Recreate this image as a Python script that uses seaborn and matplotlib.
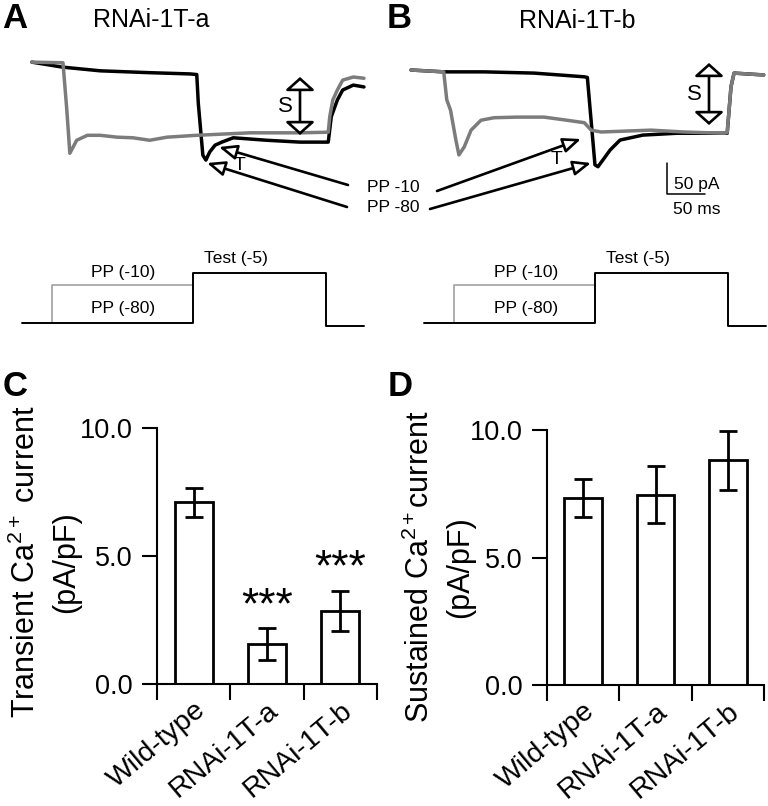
import numpy as np
import pandas as pd
import seaborn as sns
import matplotlib.pyplot as plt
from matplotlib import font_manager
from matplotlib.patches import FancyArrowPatch

W, H = 768, 806

# ---- bar data (pA/pF), mean and s.e.m.
groups = ['Wild-type', 'RNAi-1T-a', 'RNAi-1T-b']
transient_mean = [7.1, 1.55, 2.85]
transient_sem = [0.57, 0.63, 0.78]
sustained_mean = [7.33, 7.47, 8.82]
sustained_sem = [0.75, 1.12, 1.16]
transient_stars = ['', '***', '***']

# ---- current traces, time in ms (0 = prepulse onset), current in pA
a_black_t = [-41, -1, 49, 114, 167, 176, 178, 184, 188, 193, 200, 209, 224, 268, 312, 349, 353, 361, 368, 382, 396]
a_black_i = [3, -5, -11, -14, -16, -17, -63, -147, -155, -142, -131, -126, -119, -123, -126, -126, -85, -58, -42, -34, -37]
a_gray_t = [-41, 0, 5, 9, 18, 32, 49, 71, 92, 114, 137, 176, 246, 312, 349, 351, 355, 361, 368, 382, 396]
a_gray_i = [3, 2, -74, -144, -123, -115, -115, -118, -119, -123, -118, -115, -111, -111, -110, -85, -58, -42, -26, -21, -23]

b_black_t = [-46, -3, 50, 116, 182, 186, 196, 200, 216, 229, 259, 304, 370, 375, 379, 418]
b_black_i = [0, -3, -3, -5, -11, -12, -153, -156, -129, -113, -105, -102, -102, -27, -5, -8]
b_gray_t = [-46, -3, 1, 6, 13, 17, 24, 33, 46, 63, 93, 129, 159, 182, 191, 204, 270, 313, 366, 370, 375, 379, 418]
b_gray_i = [0, -3, -48, -65, -113, -137, -124, -97, -81, -77, -76, -76, -81, -85, -97, -100, -97, -100, -102, -101, -27, -5, -8]

scale_ms = 50
scale_pA = 50

# ---- voltage protocol (schematic heights)
prot_black_t = [0, 225, 225, 400, 400, 450]
prot_black_v = [0, 0, 50, 50, -2.5, -2.5]
prot_gray_t = [40, 40, 225]
prot_gray_v = [0, 38, 38]

sns.set_style('ticks')
names = {f.name for f in font_manager.fontManager.ttflist}
narrow = 'Liberation Sans Narrow' if 'Liberation Sans Narrow' in names else 'Liberation Sans'
small = 14.5 if narrow == 'Liberation Sans Narrow' else 12.5
plt.rcParams['font.family'] = ['Liberation Sans', 'DejaVu Sans']
plt.rcParams['mathtext.fontset'] = 'custom'
plt.rcParams['mathtext.rm'] = 'Liberation Sans'
plt.rcParams['mathtext.it'] = 'Liberation Sans:italic'
for k in ['text.color', 'axes.labelcolor', 'xtick.color', 'ytick.color', 'axes.edgecolor']:
    plt.rcParams[k] = 'black'

fig = plt.figure(figsize=(W / 100, H / 100), dpi=100)


def ax_at(x0, y0, x1, y1):
    return fig.add_axes([x0 / W, 1 - y1 / H, (x1 - x0) / W, (y1 - y0) / H])


PX_MS = 0.76
PX_PA = 0.62
GRAY = '#7c7c7c'


def trace_axes(x0, x1, onset, base, black_t, black_i, gray_t, gray_i):
    ax = ax_at(x0, 40, x1, 230)
    ax.plot(black_t, black_i, color='black', lw=2.5, solid_joinstyle='round')
    ax.plot(gray_t, gray_i, color=GRAY, lw=2.5, solid_joinstyle='round')
    ax.set_xlim((x0 - onset) / PX_MS, (x1 - onset) / PX_MS)
    ax.set_ylim(-(230 - base) / PX_PA, -(40 - base) / PX_PA)
    ax.axis('off')
    return ax


def protocol_axes(x0, x1, start):
    ax = ax_at(x0, 240, x1, 340)
    ax.plot(prot_gray_t, prot_gray_v, color='#a8a8a8', lw=1.3)
    ax.plot(prot_black_t, prot_black_v, color='black', lw=1.4)
    ax.set_xlim((x0 - start) / PX_MS, (x1 - start) / PX_MS)
    ax.set_ylim(-17, 83)
    ax.axis('off')


trace_axes(0, 384, 63, 64, a_black_t, a_black_i, a_gray_t, a_gray_i)
axB = trace_axes(384, 768, 446, 70, b_black_t, b_black_i, b_gray_t, b_gray_i)
sb_t, sb_i = 291, -150
axB.plot([sb_t, sb_t, sb_t + scale_ms], [sb_i, sb_i - scale_pA, sb_i - scale_pA], color='black', lw=1.1)
protocol_axes(0, 384, 22)
protocol_axes(384, 768, 424)


def bar_axes(x0, y0, x1, y1, means, sems):
    ax = ax_at(x0, y0, x1, y1)
    df = pd.DataFrame({'group': groups, 'value': means})
    sns.barplot(data=df, x='group', y='value', ax=ax, color='white', edgecolor='black',
                linewidth=2, width=0.52, errorbar=None, saturation=1)
    ax.errorbar(range(len(groups)), means, yerr=sems, fmt='none', ecolor='black',
                elinewidth=2, capsize=6.8, capthick=2, clip_on=False, zorder=3)
    ax.set_xlim(-0.5, len(groups) - 0.5)
    ax.set_ylim(0, 10)
    ax.set_yticks([0, 5, 10])
    ax.set_yticklabels(['0.0', '5.0', '10.0'])
    ax.set_xticks(np.arange(len(groups) + 1) - 0.5)
    ax.set_xticklabels([])
    ax.set_xticks(range(len(groups)), labels=groups, minor=True)
    ax.tick_params(axis='x', which='major', length=11.5, width=1.5, direction='out')
    ax.tick_params(axis='x', which='minor', length=0, pad=9.5, labelsize=20.5)
    ax.tick_params(axis='y', length=10.8, width=1.5, direction='out', pad=6.5, labelsize=19.5)
    for lab in ax.get_xticklabels(minor=True):
        lab.set_rotation(40)
        lab.set_ha('right')
        lab.set_rotation_mode('anchor')
    for s in ['top', 'right']:
        ax.spines[s].set_visible(False)
    for s in ['left', 'bottom']:
        ax.spines[s].set_linewidth(1.5)
    ax.set_xlabel('')
    ax.set_ylabel('')
    return ax


axC = bar_axes(157, 428, 377, 684, transient_mean, transient_sem)
for i, s in enumerate(transient_stars):
    if s:
        axC.text(i, transient_mean[i] + transient_sem[i] + 0.4, s, ha='center',
                 va='baseline', fontsize=32)
axD = bar_axes(547, 430, 764, 685, sustained_mean, sustained_sem)

# ---- overlay for letters, labels and arrows (pixel coordinates)
ov = fig.add_axes([0, 0, 1, 1], zorder=10)
ov.set_xlim(0, W)
ov.set_ylim(H, 0)
ov.axis('off')
ov.patch.set_alpha(0)

for x, y, s in [(26, 562, 'Transient Ca$^{2+}$ current'), (66, 562, '(pA/pF)'),
                (420, 567, 'Sustained Ca$^{2+}$current'), (460, 567, '(pA/pF)')]:
    ov.text(x, y, s, fontsize=22, rotation=90, ha='center', va='center')

for letter, x, y in [('A', 2, 28), ('B', 387, 28), ('C', 3, 396), ('D', 388, 396)]:
    ov.text(x, y, letter, fontsize=25, fontweight='bold', ha='left', va='baseline')
ov.text(151, 20, 'RNAi-1T-a', fontsize=18, ha='center', va='center')
ov.text(577, 21, 'RNAi-1T-b', fontsize=18, ha='center', va='center')

nf = [narrow, 'DejaVu Sans']
ov.text(367, 187, 'PP -10', fontsize=small, family=nf, ha='left', va='center')
ov.text(367, 208, 'PP -80', fontsize=small, family=nf, ha='left', va='center')
for x, y, s, fs in [(285, 107, 'S', 16), (694, 95, 'S', 16), (240, 165, 'T', 14), (557, 160, 'T', 14)]:
    ov.text(x, y, s, fontsize=fs, family=nf, ha='center', va='center')
for x in [123, 526]:
    ov.text(x, 273, 'PP (-10)', fontsize=small, family=nf, ha='center', va='center')
    ov.text(x, 309, 'PP (-80)', fontsize=small, family=nf, ha='center', va='center')
for x in [236, 638]:
    ov.text(x, 258, 'Test (-5)', fontsize=small, family=nf, ha='center', va='center')
ov.text(674, 184, '50 pA', fontsize=small, family=nf, ha='left', va='center')
ov.text(673, 209, '50 ms', fontsize=small, family=nf, ha='left', va='center')

one_head = '-|>,head_length=1.08,head_width=0.45'
for p0, p1 in [((348, 185), (219, 147)), ((347, 207), (207, 163)),
               ((437, 191), (581, 139)), ((430, 209), (591, 163))]:
    ov.add_patch(FancyArrowPatch(p0, p1, arrowstyle=one_head, mutation_scale=10,
                                 lw=1.9, ec='black', fc='white', shrinkA=0, shrinkB=0))
two_head = '<|-|>,head_length=0.8,head_width=0.9'
for x, y0, y1 in [(300, 77, 135), (709, 63, 125)]:
    ov.add_patch(FancyArrowPatch((x, y0), (x, y1), arrowstyle=two_head, mutation_scale=10,
                                 lw=1.9, ec='black', fc='white', shrinkA=0, shrinkB=0))

fig.savefig('out.png', dpi=100)
